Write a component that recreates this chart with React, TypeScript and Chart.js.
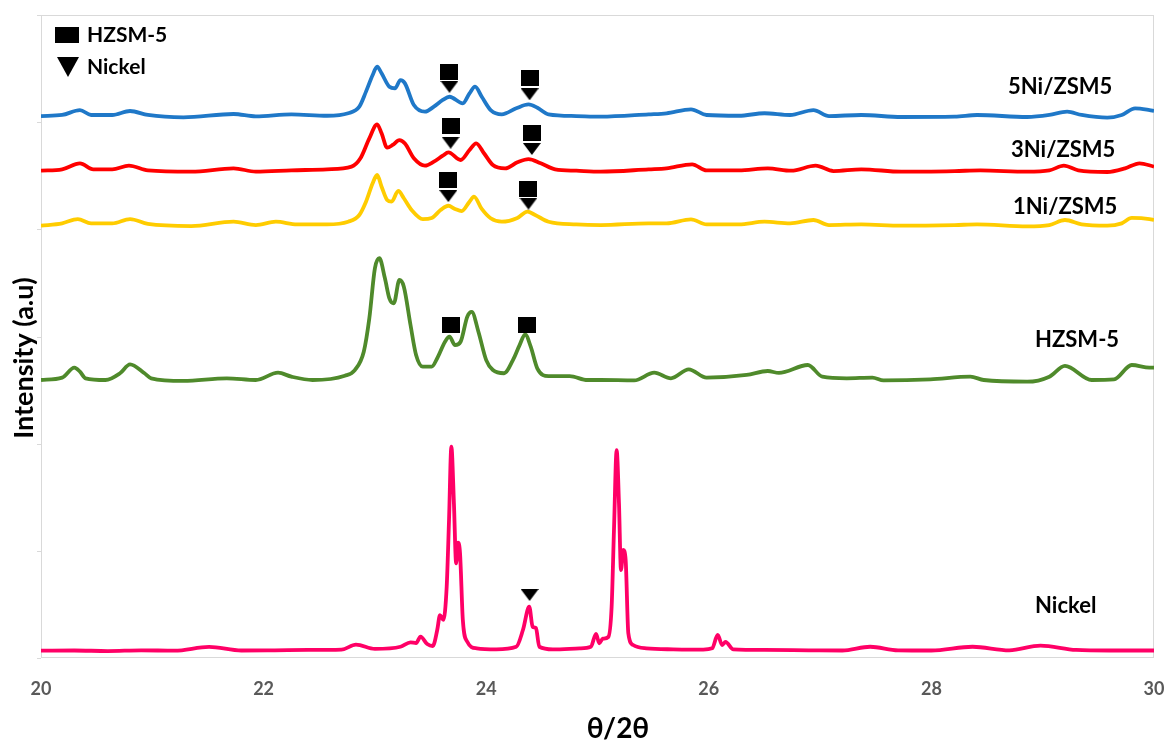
import React, { useEffect, useRef } from 'react';
import { Chart, registerables } from 'chart.js';

Chart.register(...registerables);

const FONT = "Lato, 'Open Sans', 'DejaVu Sans', sans-serif";

// axis
const X_MIN = 20;
const X_MAX = 30;
const X_STEP = 2;
const Y_MIN = 0;
const Y_MAX = 6;
const X_TITLE = 'θ/2θ';
const Y_TITLE = 'Intensity (a.u)';

// 5Ni/ZSM5
const ni5X = [20.00,20.19,20.35,20.45,20.64,20.80,20.96,21.28,21.73,21.93,22.25,22.57,22.76,22.86,22.92,22.98,23.02,23.06,23.13,23.18,23.23,23.27,23.35,23.45,23.53,23.61,23.67,23.79,23.85,23.90,23.96,24.04,24.14,24.27,24.38,24.46,24.56,24.81,25.03,25.46,25.62,25.84,25.98,26.27,26.50,26.73,26.94,27.08,27.37,27.73,28.21,28.41,28.86,29.06,29.22,29.35,29.58,29.71,29.83,29.96,30.00];
const ni5Y = [5.057,5.067,5.113,5.067,5.067,5.104,5.067,5.045,5.076,5.054,5.073,5.06,5.083,5.145,5.285,5.44,5.518,5.456,5.331,5.316,5.393,5.362,5.16,5.098,5.145,5.207,5.237,5.176,5.269,5.331,5.237,5.113,5.073,5.129,5.166,5.135,5.073,5.057,5.051,5.073,5.083,5.12,5.067,5.06,5.083,5.067,5.113,5.057,5.067,5.048,5.051,5.067,5.048,5.067,5.098,5.067,5.042,5.067,5.129,5.113,5.105];

// 3Ni/ZSM5
const ni3X = [20.00,20.19,20.35,20.47,20.64,20.79,20.96,21.35,21.73,21.93,22.25,22.57,22.79,22.87,22.95,23.02,23.06,23.11,23.16,23.22,23.27,23.35,23.45,23.53,23.61,23.66,23.77,23.85,23.91,23.98,24.06,24.17,24.28,24.38,24.49,24.62,24.81,25.03,25.46,25.62,25.85,25.98,26.27,26.53,26.74,26.96,27.12,27.37,27.73,28.21,28.44,28.86,29.06,29.19,29.32,29.58,29.74,29.87,30.00];
const ni3Y = [4.547,4.56,4.616,4.56,4.56,4.594,4.55,4.538,4.569,4.538,4.55,4.56,4.585,4.663,4.849,4.98,4.896,4.762,4.787,4.833,4.80,4.663,4.594,4.631,4.687,4.718,4.647,4.74,4.803,4.71,4.60,4.569,4.625,4.656,4.616,4.56,4.547,4.538,4.56,4.569,4.607,4.55,4.55,4.569,4.547,4.594,4.544,4.56,4.538,4.544,4.55,4.538,4.55,4.594,4.55,4.535,4.569,4.616,4.585];

// 1Ni/ZSM5
const ni1X = [20.00,20.19,20.33,20.45,20.64,20.80,20.96,21.35,21.73,21.93,22.11,22.30,22.57,22.76,22.86,22.92,22.98,23.02,23.06,23.11,23.15,23.21,23.26,23.33,23.43,23.51,23.59,23.66,23.72,23.78,23.85,23.89,23.96,24.04,24.14,24.28,24.37,24.44,24.56,24.81,25.03,25.46,25.62,25.84,25.98,26.27,26.50,26.73,26.94,27.08,27.37,27.73,28.21,28.41,28.86,29.06,29.20,29.35,29.58,29.71,29.80,29.96,30.00];
const ni1Y = [4.034,4.056,4.096,4.056,4.056,4.096,4.05,4.03,4.071,4.04,4.071,4.046,4.046,4.071,4.134,4.258,4.43,4.507,4.398,4.274,4.258,4.358,4.29,4.18,4.096,4.106,4.18,4.22,4.19,4.17,4.258,4.305,4.19,4.103,4.071,4.106,4.165,4.134,4.071,4.046,4.04,4.056,4.056,4.093,4.046,4.046,4.071,4.056,4.087,4.04,4.046,4.034,4.04,4.046,4.028,4.04,4.087,4.046,4.034,4.056,4.106,4.096,4.087];

// HZSM-5
const hzX = [20.00,20.19,20.30,20.35,20.40,20.58,20.71,20.80,20.93,20.99,21.28,21.67,21.93,22.13,22.25,22.44,22.73,22.82,22.90,22.95,23.00,23.04,23.09,23.13,23.17,23.22,23.26,23.32,23.37,23.43,23.51,23.56,23.63,23.67,23.72,23.77,23.83,23.87,23.93,24.00,24.06,24.16,24.24,24.30,24.35,24.40,24.46,24.56,24.75,24.91,25.03,25.33,25.51,25.66,25.82,25.98,26.34,26.53,26.63,26.89,27.02,27.24,27.47,27.57,27.99,28.35,28.47,28.86,29.06,29.20,29.44,29.64,29.80,29.96,30.00];
const hzY = [2.594,2.616,2.709,2.672,2.61,2.594,2.657,2.74,2.657,2.61,2.585,2.61,2.594,2.662,2.625,2.594,2.634,2.687,2.858,3.17,3.636,3.73,3.543,3.356,3.31,3.527,3.465,3.107,2.827,2.718,2.718,2.797,2.951,2.998,2.92,2.951,3.185,3.23,3.045,2.78,2.687,2.657,2.78,2.92,3.02,2.905,2.70,2.63,2.63,2.594,2.594,2.59,2.662,2.61,2.694,2.616,2.641,2.678,2.66,2.734,2.625,2.61,2.616,2.59,2.60,2.625,2.594,2.578,2.625,2.725,2.594,2.60,2.734,2.71,2.71];

// Nickel
const nkX = [20.00,20.30,20.60,20.90,21.20,21.51,21.80,22.10,22.40,22.70,22.83,23.00,23.23,23.32,23.37,23.41,23.47,23.52,23.56,23.585,23.615,23.645,23.666,23.687,23.71,23.73,23.747,23.765,23.79,23.83,23.915,24.09,24.27,24.33,24.387,24.417,24.447,24.477,24.60,24.84,24.94,24.987,25.016,25.047,25.097,25.127,25.148,25.172,25.193,25.211,25.232,25.253,25.277,25.32,25.44,25.68,25.95,26.03,26.08,26.12,26.15,26.22,26.50,26.90,27.20,27.45,27.70,28.00,28.37,28.70,28.98,29.30,29.60,30.00];
const nkY = [0.068,0.07,0.065,0.072,0.068,0.104,0.07,0.072,0.075,0.078,0.125,0.085,0.105,0.146,0.14,0.199,0.13,0.112,0.261,0.40,0.355,0.665,1.288,1.972,1.443,0.884,1.076,0.977,0.355,0.152,0.09,0.081,0.105,0.261,0.479,0.292,0.28,0.105,0.081,0.09,0.105,0.224,0.137,0.18,0.196,0.479,1.194,1.94,1.443,0.821,1.008,0.914,0.23,0.121,0.09,0.081,0.078,0.09,0.215,0.12,0.15,0.08,0.075,0.072,0.07,0.105,0.072,0.07,0.105,0.072,0.116,0.075,0.07,0.07];

// phase markers
const squareX = [23.67, 24.39, 23.68, 24.41, 23.66, 24.38, 23.68, 24.37];
const squareY = [5.465, 5.41, 4.964, 4.90, 4.46, 4.373, 3.107, 3.107];
const triangleX = [23.67, 24.39, 23.68, 24.41, 23.66, 24.38, 24.39];
const triangleY = [5.33, 5.26, 4.808, 4.75, 4.31, 4.24, 0.588];

const seriesNames = ['5Ni/ZSM5', '3Ni/ZSM5', '1Ni/ZSM5', 'HZSM-5', 'Nickel'];
const seriesColors = ['#1F78C8', '#FF0000', '#FFCC00', '#4F8A2B', '#FF0066'];
const seriesLabelX = [1008, 1011, 1013, 1035, 1035];
const seriesLabelY = [87, 150, 207, 340, 606];
const legendNames = ['HZSM-5', 'Nickel'];

const pts = (xs: number[], ys: number[]) => xs.map((x, i) => ({ x, y: ys[i] }));

function makeSquare(w: number, h: number) {
  const c = document.createElement('canvas');
  c.width = w; c.height = h;
  const g = c.getContext('2d')!;
  g.fillStyle = '#000';
  g.fillRect(0, 0, w, h);
  return c;
}
function makeTriangle(w: number, h: number) {
  const c = document.createElement('canvas');
  c.width = w; c.height = h;
  const g = c.getContext('2d')!;
  g.fillStyle = '#000';
  g.beginPath();
  g.moveTo(0, 0);
  g.lineTo(w, 0);
  g.lineTo(w / 2, h);
  g.closePath();
  g.fill();
  return c;
}

export default function App() {
  const ref = useRef<HTMLCanvasElement>(null);
  useEffect(() => {
    const canvas = ref.current;
    if (!canvas) return;
    const sq = makeSquare(18, 16);
    const tri = makeTriangle(18, 12);

    const deco = {
      id: 'deco',
      beforeDatasetsDraw(chart: any) {
        const { ctx, chartArea: a, scales } = chart;
        ctx.save();
        ctx.strokeStyle = '#D9D9D9';
        ctx.lineWidth = 1;
        ctx.strokeRect(a.left + 0.5, a.top + 0.5, a.right - a.left - 1, a.bottom - a.top - 1);
        for (let v = Y_MIN; v <= Y_MAX; v++) {
          const py = Math.round(scales.y.getPixelForValue(v)) + 0.5;
          ctx.beginPath();
          ctx.moveTo(a.left - 4, py);
          ctx.lineTo(a.left, py);
          ctx.stroke();
        }
        ctx.restore();
      },
      afterDraw(chart: any) {
        const { ctx } = chart;
        ctx.save();
        ctx.fillStyle = '#000';
        // legend
        ctx.fillRect(55, 27, 24, 16);
        ctx.beginPath();
        ctx.moveTo(57, 57);
        ctx.lineTo(79, 57);
        ctx.lineTo(68, 77);
        ctx.closePath();
        ctx.fill();
        ctx.font = `bold 21px ${FONT}`;
        ctx.textBaseline = 'middle';
        ctx.textAlign = 'left';
        ctx.fillText(legendNames[0], 87, 35);
        ctx.fillText(legendNames[1], 87, 67);
        // series labels
        ctx.font = `bold 22px ${FONT}`;
        seriesNames.forEach((n, i) => ctx.fillText(n, seriesLabelX[i], seriesLabelY[i]));
        // axis titles
        ctx.textAlign = 'center';
        ctx.font = `bold 28px ${FONT}`;
        ctx.fillText(X_TITLE, 618, 729);
        ctx.translate(24, 358);
        ctx.rotate(-Math.PI / 2);
        ctx.font = `bold 27px ${FONT}`;
        ctx.fillText(Y_TITLE, 0, 0);
        ctx.restore();
      },
    };

    const lineDs = (i: number, xs: number[], ys: number[]) => ({
      label: seriesNames[i],
      data: pts(xs, ys),
      borderColor: seriesColors[i],
      backgroundColor: seriesColors[i],
      borderWidth: 3.8,
      pointRadius: 0,
      cubicInterpolationMode: 'monotone' as const,
      fill: false,
    });

    const chart = new Chart(canvas, {
      type: 'line',
      data: {
        datasets: [
          { label: 'squares', data: pts(squareX, squareY), showLine: false, pointStyle: sq as any, pointRadius: 9, borderWidth: 0 },
          { label: 'triangles', data: pts(triangleX, triangleY), showLine: false, pointStyle: tri as any, pointRadius: 9, borderWidth: 0 },
          lineDs(0, ni5X, ni5Y),
          lineDs(1, ni3X, ni3Y),
          lineDs(2, ni1X, ni1Y),
          lineDs(3, hzX, hzY),
          lineDs(4, nkX, nkY),
        ] as any,
      },
      options: {
        animation: false,
        responsive: false,
        devicePixelRatio: 1,
        layout: { padding: { top: 15, right: 12, left: 0, bottom: 0 } },
        plugins: { legend: { display: false }, tooltip: { enabled: false } },
        scales: {
          x: {
            type: 'linear',
            min: X_MIN,
            max: X_MAX,
            grid: { display: false, drawTicks: false },
            border: { display: false },
            ticks: {
              stepSize: X_STEP,
              autoSkip: false,
              color: '#595959',
              font: { family: FONT, size: 18, weight: 'bold' },
              padding: 20,
              maxRotation: 0,
            },
            afterFit: (s: any) => { s.height = 89; s.paddingLeft = 0; s.paddingRight = 0; },
          },
          y: {
            type: 'linear',
            min: Y_MIN,
            max: Y_MAX,
            grid: { display: false, drawTicks: false },
            border: { display: false },
            ticks: { display: false, stepSize: 1 },
            afterFit: (s: any) => { s.width = 41; s.paddingTop = 0; s.paddingBottom = 0; },
          },
        },
      } as any,
      plugins: [deco],
    });
    return () => chart.destroy();
  }, []);

  return (
    <div style={{ position: 'fixed', left: 0, top: 0, width: 1166, height: 747, background: '#fff' }}>
      <canvas ref={ref} width={1166} height={747} style={{ display: 'block' }} />
    </div>
  );
}
